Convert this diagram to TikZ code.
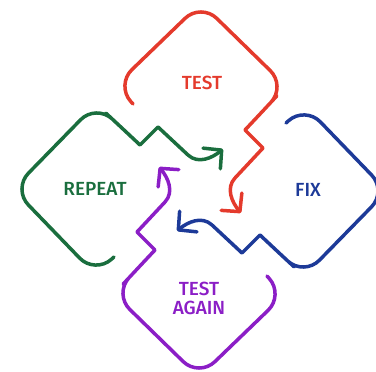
\documentclass[tikz,border=0pt]{standalone}
\usepackage{fontspec}
\setmainfont{Fira Sans}[BoldFont={Fira Sans Medium}]
\usetikzlibrary{arrows.meta}
\definecolor{testred}{HTML}{E43A2C}
\definecolor{fixblue}{HTML}{1D3A98}
\definecolor{repeatgreen}{HTML}{1A6E3E}
\definecolor{againpurple}{HTML}{8B1EC6}
\begin{document}
\begin{tikzpicture}[x=1pt,y=1pt,
		loopline/.style={line width=3.5pt,line cap=round,line join=round,
			-{Straight Barb[round,length=13pt,width=27pt]}},
		looptext/.style={font=\fontsize{19}{19}\selectfont\bfseries,align=center}]
		\useasboundingbox (-200,-182) rectangle (176,190);
		\foreach \ang/\col in {0/testred,-90/fixblue,180/againpurple,90/repeatgreen}
		\draw[loopline,\col,rotate=\ang] (-67,86) [rounded corners=22pt] -- (-84,105)
			-- (1,187) -- (86,104) -- (62,78) [sharp corners] -- (45,60) -- (63,42) -- (35,12)
			to[out=-133,in=130] (41,-23);
		
		\node[looptext,testred] (test) at (2,107) {TEST};
		\node[looptext,fixblue] (fix) at (108,0) {FIX};
		\node[looptext,repeatgreen] (repeat) at (-105,1) {REPEAT};
		\node[looptext,againpurple] (again) at (-1,-108) {TEST\\AGAIN};
		\end{tikzpicture}
\end{document}
